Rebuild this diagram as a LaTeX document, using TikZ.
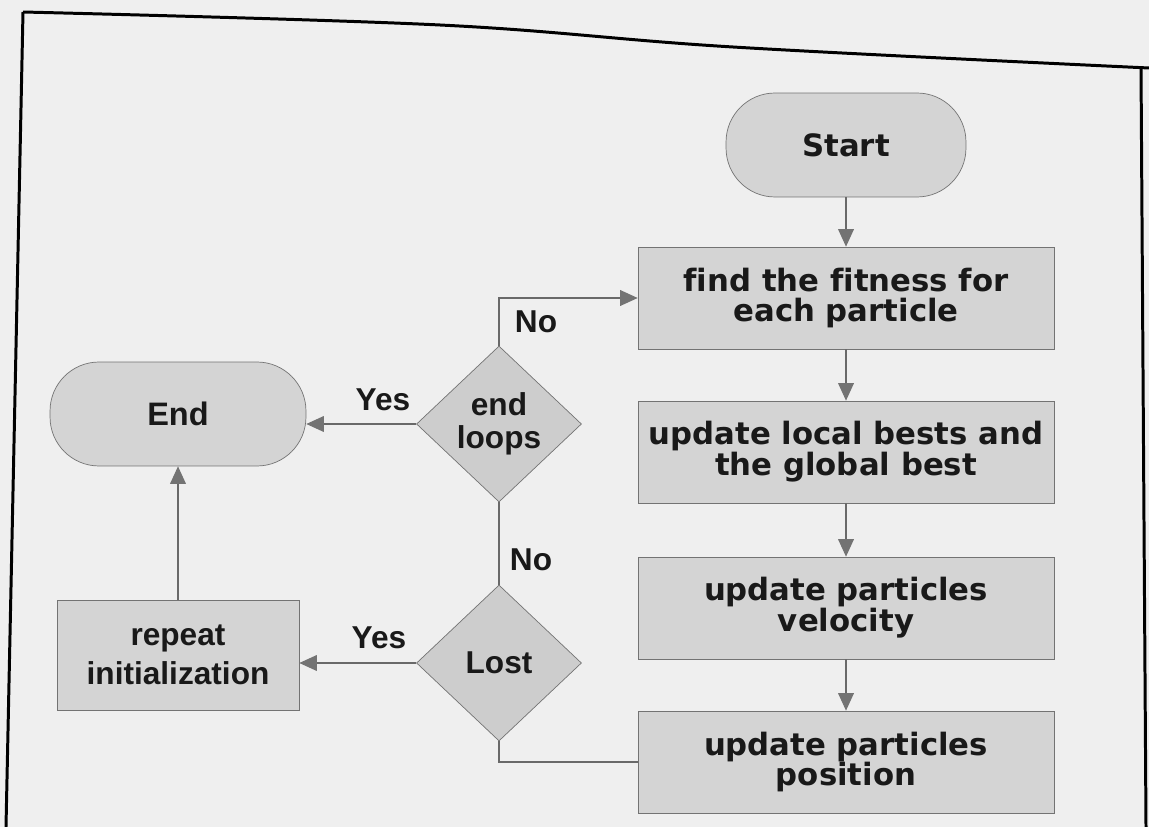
\documentclass[tikz,border=0pt]{standalone}
\usepackage{fontspec}
\setmainfont{Liberation Sans}
\newfontfamily\verdfont[Ligatures=NoCommon]{DejaVu Sans}
\definecolor{fcpage}{RGB}{239,239,239}
\definecolor{fcfill}{RGB}{212,212,212}
\definecolor{fcdiam}{RGB}{205,205,205}
\definecolor{fcedge}{RGB}{115,115,115}
\definecolor{fcline}{RGB}{105,105,105}
\definecolor{fcink}{RGB}{25,25,25}
\usetikzlibrary{arrows.meta,shapes.geometric}

\begin{document}
\begin{tikzpicture}[x=0.02cm, y=-0.02cm,
  procbox/.style={
    rectangle, draw=fcedge, fill=fcfill,
    minimum width=8.32cm, minimum height=2.04cm, inner sep=0pt,
    font=\verdfont\bfseries\fontsize{17.5}{17.5}\selectfont,
    align=center, text=fcink
  },
  termbox/.style={
    rectangle, rounded corners=0.98cm, draw=fcedge, fill=fcfill,
    minimum width=4.8cm, minimum height=2.08cm, inner sep=0pt,
    align=center, text=fcink
  },
  decision/.style={
    diamond, draw=fcedge, fill=fcdiam,
    minimum width=3.3cm, minimum height=3.12cm, inner sep=0pt,
    font=\bfseries\fontsize{18}{19}\selectfont,
    align=center, text=fcink
  },
  lbl/.style={font=\bfseries\fontsize{18}{18}\selectfont, text=fcink},
  conn/.style={-{Triangle[length=10pt,width=9pt,color=fcedge]}, line width=0.6pt, draw=fcline},
  plain/.style={line width=0.6pt, draw=fcline},
  frameline/.style={line width=1.7pt, black, line join=round}
]
\useasboundingbox (0,0) rectangle (1149,827);
\fill[fcpage] (0,0) rectangle (1149,827);

\draw[frameline] (6,827) -- (23,12);
\draw[frameline] plot[smooth, tension=0.6] coordinates {(23,12) (440,25) (733,47) (1149,68)};
\draw[frameline] (1141,67) -- (1146,827);

\node[termbox, font=\verdfont\bfseries\fontsize{17.5}{17}\selectfont] (start) at (846,145) {Start};
\node[procbox] (fit) at (846,298) {find the fitness for\\each particle};
\node[procbox] (local) at (846,452) {update local bests and\\the global best};
\node[procbox] (vel) at (846,608) {update particles\\velocity};
\node[procbox] (pos) at (846,762) {update particles\\position};

\node[decision] (endloop) at (499,424) {end\\loops};
\node[decision] (lost) at (499,663) {Lost};

\node[termbox, minimum width=5.12cm, font=\bfseries\fontsize{18.5}{18}\selectfont] (end) at (178,414) {End};
\node[rectangle, draw=fcedge, fill=fcfill, minimum width=4.84cm, minimum height=2.2cm,
  inner sep=0pt, align=center, text=fcink, font=\bfseries\fontsize{18}{22}\selectfont]
  (rep) at (178,655) {repeat\\initialization};

\draw[conn] (start) -- (fit);
\draw[conn] (fit) -- (local);
\draw[conn] (local) -- (vel);
\draw[conn] (vel) -- (pos);
\draw[plain] (pos.west) -| (lost.south);
\draw[plain] (lost.north) -- (endloop.south);
\draw[conn] (endloop.north) |- (fit.west);
\draw[conn] (endloop.west) -- (endloop.west -| end.east);
\draw[conn] (lost.west) -- (lost.west -| rep.east);
\draw[conn] (rep) -- (end);

\node[lbl] (yesend) at (383,400) {Yes};
\node[lbl] (yesrep) at (379,638) {Yes};
\node[lbl] (nofit) at (536,322) {No};
\node[lbl] (nolost) at (531,560) {No};
\end{tikzpicture}
\end{document}
